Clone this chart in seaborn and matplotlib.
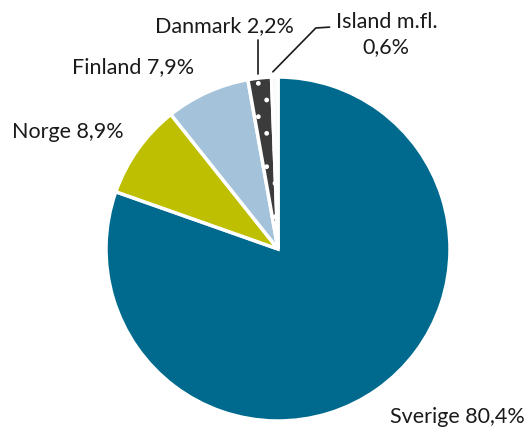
import matplotlib
matplotlib.use('Agg')
import matplotlib.pyplot as plt
import seaborn as sns

# Share per country
countries = ['Sverige', 'Norge', 'Finland', 'Danmark', 'Island m.fl.']
shares = [80.4, 8.9, 7.9, 2.2, 0.6]
colors = ['#006A8E', '#BDBF00', '#A4C3DA', '#3B3B3B', '#F2F2F2']
hatches = ['', '', '', '.', '|']
label_text = ['Sverige 80,4%', 'Norge 8,9%', 'Finland 7,9%', 'Danmark 2,2%', 'Island m.fl.\n0,6%']

sns.set_theme(style='white')
plt.rcParams['font.family'] = ['Lato', 'DejaVu Sans']
plt.rcParams['hatch.color'] = 'white'

W, H = 531, 428
fig = plt.figure(figsize=(W / 100, H / 100), dpi=100)

# pie centre / radius in pixels
cx, cy, r = 278, 249, 172
ax = fig.add_axes([(cx - r) / W, (H - cy - r) / H, 2 * r / W, 2 * r / H])

wedges, _ = ax.pie(shares, colors=colors, startangle=90, counterclock=False,
                   wedgeprops=dict(edgecolor='white', linewidth=2.5))
for w, h in zip(wedges, hatches):
    if h:
        w.set_hatch(h)

ax.set_xlim(-1, 1)
ax.set_ylim(-1, 1)
ax.set_aspect('equal')

fs = 15.5
tc = '#1A1A1A'
label_pos = [(1.04, -0.975), (-1.22, 0.68), (-0.84, 1.06), (-0.31, 1.295), (0.63, 1.245)]
for txt, (x, y) in zip(label_text, label_pos):
    ax.text(x, y, txt, ha='center', va='center', fontsize=fs, color=tc,
            clip_on=False, linespacing=1.3)

# leader lines
ax.plot([-0.116, -0.116], [1.02, 1.215], color=tc, lw=1.2, clip_on=False)
ax.plot([-0.03, 0.22, 0.30], [1.03, 1.285, 1.29], color=tc, lw=1.2, clip_on=False)

fig.savefig('out.png', dpi=100)
